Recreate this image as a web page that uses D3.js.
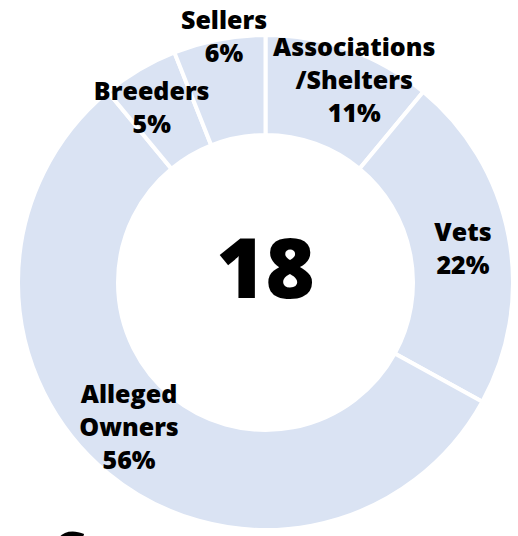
<!DOCTYPE html>
<html><head><meta charset="utf-8">
<script src="https://cdn.jsdelivr.net/npm/d3@7"></script>
<style>html,body{margin:0;padding:0;background:#fff;overflow:hidden}</style>
</head><body>
<svg id="chart" width="518" height="536"></svg>
<script>
const categories = ["Associations\n/Shelters", "Vets", "Alleged\nOwners", "Breeders", "Sellers"];
const percentages = [11, 22, 56, 5, 6];
const totalCount = 18;
const partialTitle = "C";

// label nudges relative to arc centroid (layout, not data)
const labelNudge = [[21, -14], [1, 3], [-9, -10], [-12, -3], [-4, -50]];

const svg = d3.select("#chart");
const cx = 265.5, cy = 282.5, rOuter = 247.5, rInner = 147.5;

const g = svg.append("g").attr("transform", `translate(${cx},${cy})`);
const pie = d3.pie().sort(null).value(d => d.v);
const data = pie(categories.map((c, i) => ({c, v: percentages[i]})));
const arc = d3.arc().innerRadius(rInner).outerRadius(rOuter);
const labelArc = d3.arc().innerRadius(200).outerRadius(200);

g.selectAll("path.slice").data(data).join("path")
  .attr("class", "slice")
  .attr("d", arc)
  .attr("fill", "#dae3f3")
  .attr("stroke", "#ffffff")
  .attr("stroke-width", 4)
  .attr("stroke-linejoin", "miter");

const font = "'Open Sans', Lato, sans-serif";
const lh = 33;
data.forEach((d, i) => {
  const [x, y] = labelArc.centroid(d);
  const lines = (d.data.c + "\n" + d.data.v + "%").split("\n");
  const t = g.append("text")
    .attr("text-anchor", "middle")
    .attr("font-family", font)
    .attr("font-weight", 800)
    .attr("font-size", 25)
    .attr("fill", "#000");
  const x0 = x + labelNudge[i][0];
  const y0 = y + labelNudge[i][1] - (lines.length - 1) * lh / 2 + 9;
  lines.forEach((ln, k) => {
    t.append("tspan").attr("x", x0).attr("y", y0 + k * lh).text(ln);
  });
});

g.append("text")
  .attr("text-anchor", "middle")
  .attr("x", 0).attr("y", 15)
  .attr("font-family", font)
  .attr("font-weight", 800)
  .attr("font-size", 84)
  .attr("fill", "#000")
  .text(totalCount);

svg.append("text")
  .attr("x", 52).attr("y", 569)
  .attr("font-family", font)
  .attr("font-weight", 800)
  .attr("font-size", 52)
  .attr("fill", "#000")
  .text(partialTitle);
</script>
</body></html>
